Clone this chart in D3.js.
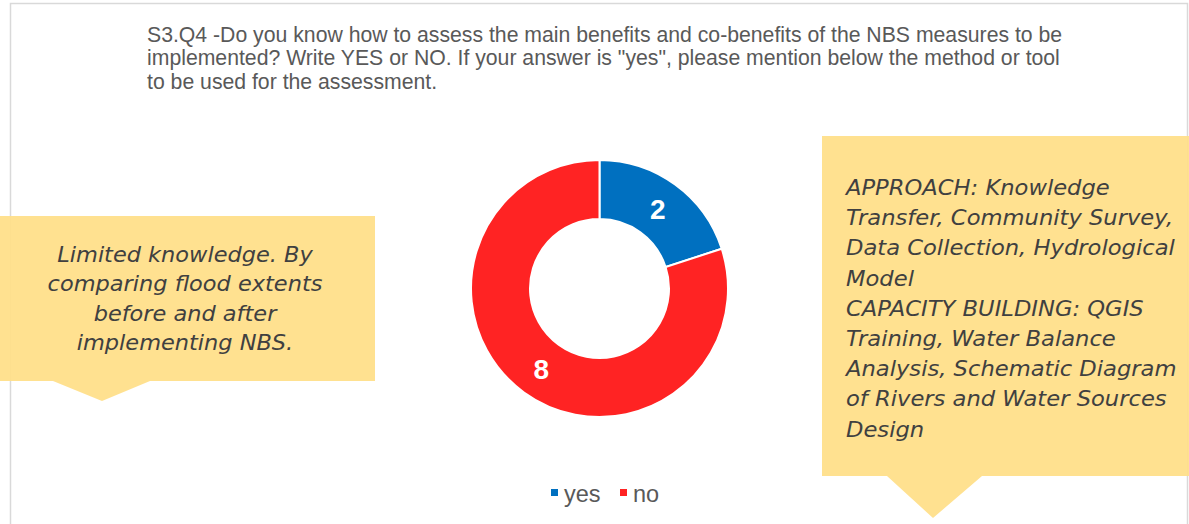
<!DOCTYPE html>
<html>
<head>
<meta charset="utf-8">
<script src="https://cdn.jsdelivr.net/npm/d3@7"></script>
<style>
  html, body { margin: 0; padding: 0; background: #fff; }
  svg { display: block; }
</style>
</head>
<body>
<svg id="chart" width="1189" height="524"></svg>
<script>
// Survey answers
const categories = ["yes", "no"];
const counts = [2, 8];
const sliceColors = ["#0070C0", "#FF2323"];

const titleLines = [
  "S3.Q4 -Do you know how to assess the main benefits and co-benefits of the NBS measures to be",
  "implemented? Write YES or NO. If your answer is \"yes\", please mention below the method or tool",
  "to be used for the assessment."
];

const noteLeft = [
  "Limited knowledge. By",
  "comparing flood extents",
  "before and after",
  "implementing NBS."
];

const noteRight = [
  "APPROACH: Knowledge",
  "Transfer, Community Survey,",
  "Data Collection, Hydrological",
  "Model",
  "CAPACITY BUILDING: QGIS",
  "Training, Water Balance",
  "Analysis, Schematic Diagram",
  "of Rivers and Water Sources",
  "Design"
];

const svg = d3.select("#chart");
const sansFont = "Liberation Sans, Arial, sans-serif";
const noteFont = "DejaVu Sans, Verdana, sans-serif";

// chart frame
svg.append("path")
  .attr("d", "M10.5,524 L10.5,3.5 L1187.5,3.5 L1187.5,524")
  .attr("fill", "none")
  .attr("stroke", "#D9D9D9")
  .attr("stroke-width", 1.5);

// multi-line text block, width-fitted on one of its lines
function textBlock(x, y0, lineH, lines, opts, refIndex, width) {
  const g = svg.append("g");
  const t = g.append("text")
    .attr("font-family", opts.family)
    .attr("font-size", opts.size)
    .attr("font-style", opts.style || "normal")
    .attr("fill", opts.fill)
    .attr("text-anchor", opts.anchor || "start");
  const spans = lines.map((s, i) =>
    t.append("tspan").attr("x", 0).attr("y", y0 + i * lineH).text(s));
  const w = spans[refIndex].node().getComputedTextLength();
  const sx = w > 0 ? width / w : 1;
  g.attr("transform", `translate(${x},0) scale(${sx},1)`);
  return g;
}

// title
textBlock(147, 42, 23.5, titleLines,
  { family: sansFont, size: 21.2, fill: "#595959" }, 0, 915);

// callout boxes
const calloutFill = "#FFDF88";
function callout(x0, y0, x1, y1, tl, tipX, tr, tipY) {
  const p = d3.path();
  p.moveTo(x0, y0); p.lineTo(x1, y0); p.lineTo(x1, y1);
  p.lineTo(tr, y1); p.lineTo(tipX, tipY); p.lineTo(tl, y1);
  p.lineTo(x0, y1); p.closePath();
  svg.append("path").attr("d", p.toString())
    .attr("fill", calloutFill).attr("fill-opacity", 0.93);
}
callout(0, 216, 375, 381, 53, 102, 150, 401);
callout(822, 136, 1189, 476, 887, 933, 982, 518);

textBlock(185, 262, 29.5, noteLeft,
  { family: noteFont, size: 21.5, style: "italic", fill: "#404040", anchor: "middle" }, 1, 275);
textBlock(846, 195, 30.2, noteRight,
  { family: noteFont, size: 21.5, style: "italic", fill: "#404040" }, 2, 329);

// donut
const cx = 599.5, cy = 288.5;
const outerR = 128.5, innerR = 69.5;
const pie = d3.pie().sort(null).value(d => d.value);
const arcs = pie(categories.map((c, i) => ({ key: c, value: counts[i] })));
const arc = d3.arc().innerRadius(innerR).outerRadius(outerR);
const color = d3.scaleOrdinal().domain(categories).range(sliceColors);

const g = svg.append("g").attr("transform", `translate(${cx},${cy})`);
g.selectAll("path.slice").data(arcs).join("path")
  .attr("class", "slice")
  .attr("d", arc)
  .attr("fill", d => color(d.data.key))
  .attr("stroke", "#fff")
  .attr("stroke-width", 2);

const labelArc = d3.arc().innerRadius((innerR + outerR) / 2).outerRadius((innerR + outerR) / 2);
g.selectAll("text.val").data(arcs).join("text")
  .attr("class", "val")
  .attr("transform", d => `translate(${labelArc.centroid(d)})`)
  .attr("text-anchor", "middle")
  .attr("dy", "0.36em")
  .attr("font-family", sansFont)
  .attr("font-weight", "bold")
  .attr("font-size", 28)
  .attr("fill", "#fff")
  .text(d => d.data.value);

// legend
const legendX = [551, 620];
categories.forEach((c, i) => {
  const lg = svg.append("g").attr("transform", `translate(${legendX[i]},494)`);
  lg.append("rect").attr("x", 0).attr("y", -5).attr("width", 7).attr("height", 7).attr("fill", color(c));
  lg.append("text").attr("x", 13).attr("y", 8)
    .attr("font-family", sansFont)
    .attr("font-size", 23.5).attr("fill", "#595959")
    .text(c);
});
</script>
</body>
</html>
